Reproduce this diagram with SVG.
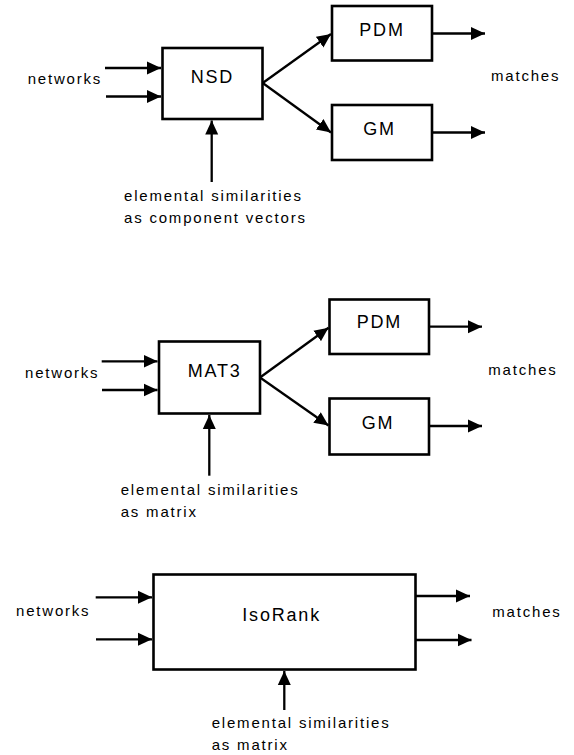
<svg xmlns="http://www.w3.org/2000/svg" width="574" height="755" viewBox="0 0 574 755">
<style>
.box{fill:#fff;stroke:#000;stroke-width:2.6}
.lbl{font-family:"Liberation Sans",Arial,sans-serif;font-size:18px;letter-spacing:1.8px;fill:#000}
.txt{font-family:"Liberation Sans",Arial,sans-serif;font-size:15px;letter-spacing:1.8px;fill:#000}
.c line{stroke:#000;stroke-width:2.3;marker-end:url(#ah)}
</style>
<defs>
<marker id="ah" markerUnits="userSpaceOnUse" markerWidth="16" markerHeight="14" refX="14" refY="7" orient="auto" viewBox="0 0 16 14">
<path d="M0,0.5 L14,7 L0,13.5 z" fill="#000"/>
</marker>
</defs>
<rect width="574" height="755" fill="#fff"/>
<g id="panel1-texts">
<text class="txt" x="27.7" y="84">networks</text>
<text class="txt" x="491" y="80.7">matches</text>
<text class="txt" x="124" y="201">elemental similarities</text>
<text class="txt" x="124" y="222.7">as component vectors</text>
</g>
<g id="nsd"><rect class="box" x="162.5" y="48" width="100" height="71"/><text class="lbl" x="190.7" y="82.7">NSD</text></g>
<g id="pdm1"><rect class="box" x="332" y="6" width="100" height="54.5"/><text class="lbl" x="359.3" y="36">PDM</text></g>
<g id="gm1"><rect class="box" x="332" y="105" width="100" height="55"/><text class="lbl" x="363.3" y="135">GM</text></g>
<g id="panel2-texts">
<text class="txt" x="25" y="377.7">networks</text>
<text class="txt" x="488.3" y="375">matches</text>
<text class="txt" x="120.7" y="494.7">elemental similarities</text>
<text class="txt" x="120.7" y="516.7">as matrix</text>
</g>
<g id="mat3"><rect class="box" x="159" y="341.5" width="101" height="72"/><text class="lbl" x="187.7" y="377.3">MAT3</text></g>
<g id="pdm2"><rect class="box" x="329.5" y="299.5" width="99.5" height="54.5"/><text class="lbl" x="356.7" y="328.3">PDM</text></g>
<g id="gm2"><rect class="box" x="329.5" y="398.5" width="99.5" height="56"/><text class="lbl" x="361.7" y="429.3">GM</text></g>
<g id="panel3-texts">
<text class="txt" x="16" y="615.7">networks</text>
<text class="txt" x="492.3" y="617.3">matches</text>
<text class="txt" x="211.7" y="728.3">elemental similarities</text>
<text class="txt" x="211.7" y="750">as matrix</text>
</g>
<g id="isorank"><rect class="box" x="153.5" y="574.5" width="262" height="95"/><text class="lbl" x="242.3" y="620.7">IsoRank</text></g>
<g id="connectors" class="c">
<line x1="105" y1="68" x2="161" y2="68"/>
<line x1="106" y1="96.5" x2="161" y2="96.5"/>
<line x1="211.7" y1="182" x2="211.7" y2="120.5"/>
<line x1="262.7" y1="83" x2="331" y2="34"/>
<line x1="262.7" y1="83" x2="331" y2="132.5"/>
<line x1="432" y1="33.5" x2="485" y2="33.5"/>
<line x1="432" y1="132.5" x2="485" y2="132.5"/>
<line x1="101.7" y1="361.3" x2="157.5" y2="361.3"/>
<line x1="102" y1="390" x2="157.5" y2="390"/>
<line x1="209.3" y1="475.7" x2="209.3" y2="415"/>
<line x1="260" y1="377.5" x2="328.5" y2="327.7"/>
<line x1="260" y1="377.5" x2="328.5" y2="425.5"/>
<line x1="429" y1="326.7" x2="482" y2="326.7"/>
<line x1="429" y1="426" x2="482" y2="426"/>
<line x1="95.7" y1="597.3" x2="152" y2="597.3"/>
<line x1="96" y1="639.3" x2="152" y2="639.3"/>
<line x1="284.3" y1="710" x2="284.3" y2="671"/>
<line x1="416" y1="596" x2="470" y2="596"/>
<line x1="416" y1="640" x2="471.5" y2="640"/>
</g>
</svg>
